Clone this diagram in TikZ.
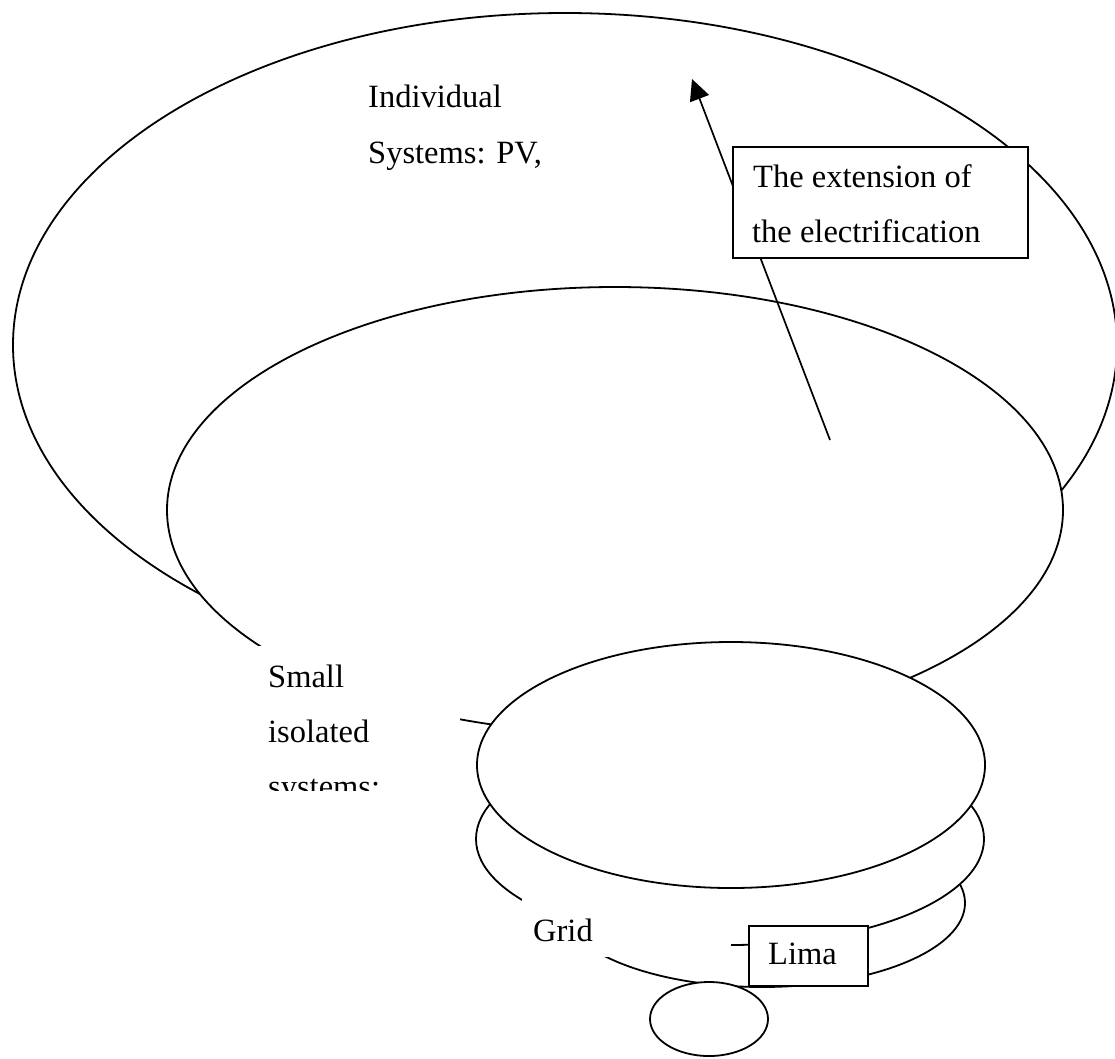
\documentclass[tikz,border=0pt]{standalone}
\usepackage{fontspec}
\setmainfont{Liberation Serif}
\usetikzlibrary{shapes.geometric,arrows.meta}
\begin{document}
\begin{tikzpicture}[x=1pt,y=-1pt,
  ring/.style={ellipse, draw=black, fill=white, line width=1.8pt, inner sep=0pt},
  lbl/.style={anchor=base west, inner sep=0pt, font=\fontsize{32.5pt}{55pt}\selectfont},
  tbox/.style={draw=black, fill=white, line width=1.7pt, anchor=north west, inner sep=0pt},
  mask/.style={fill=white, anchor=north west, inner sep=0pt},
  conn/.style={line width=1.7pt, -{Triangle[length=21pt,width=20pt]}}]
\clip (0,0) rectangle (1115,1058);
\fill[white] (0,0) rectangle (1115,1058);
% outer and middle rings
\node[ring, minimum width=1104pt, minimum height=664pt] (E1) at (565,345) {};
\node[ring, minimum width=896pt, minimum height=446pt] (E2) at (615,510) {};
% arrow and its label box
\coordinate (arrS) at (830,440);
\coordinate (arrE) at (692,79);
\draw[conn] (arrS) -- (arrE);
\node[tbox, minimum width=295pt, minimum height=111pt] (extbox) at (732,146) {};
\node[lbl] (ext1) at (753,187) {The extension of};
\node[lbl] (ext2) at (752,242) {the electrification};
% individual systems text
\node[lbl] (ind1) at (368,107) {Individual};
\node[lbl] (ind2) at (368,163) {Systems: PV,};
% stacked small rings
\node[ring, minimum width=406pt, minimum height=168pt] (E5) at (762,903) {};
\node[ring, minimum width=508pt, minimum height=212pt] (E4) at (730,839) {};
\node[ring, minimum width=508pt, minimum height=246pt] (E3) at (731,765) {};
% small isolated systems text box (clipped)
\node[mask, minimum width=202pt, minimum height=144pt] (smallbox) at (258,646) {};
\begin{scope}
  \clip (258,646) rectangle (460,790);
  \node[lbl] (sm1) at (268,687) {Small};
  \node[lbl] (sm2) at (268,742) {isolated};
  \node[lbl] (sm3) at (268,797) {systems:};
\end{scope}
% grid text box
\node[mask, minimum width=209pt, minimum height=58pt] (gridbox) at (522,899) {};
\node[lbl] (grid) at (533,941) {Grid};
% Lima box
\node[tbox, minimum width=119pt, minimum height=60pt] (limabox) at (748,925) {};
\node[lbl] (lima) at (768,964) {Lima};
% bottom small ellipse
\node[ring, minimum width=118pt, minimum height=74pt] (E6) at (709,1019) {};
\end{tikzpicture}
\end{document}
